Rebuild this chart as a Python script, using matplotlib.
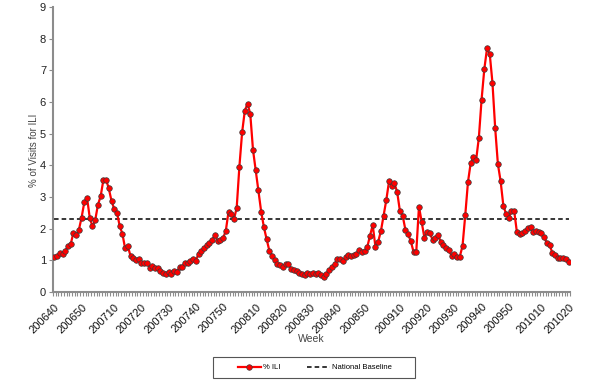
"""
Weekly % of visits for ILI, 2006 week 40 to 2010 week 20,
with the national baseline.
"""

import matplotlib
matplotlib.use("Agg")
import matplotlib.pyplot as plt
from matplotlib.patches import Rectangle
import numpy as np

plt.rcParams["font.family"] = ["Liberation Sans", "DejaVu Sans"]

# (year, first week, last week) covered by the chart
week_ranges = [(2006, 40, 52), (2007, 1, 52), (2008, 1, 53), (2009, 1, 52), (2010, 1, 20)]

# % ILI by season (week 40 .. week 39)
ili_0607 = [1.12, 1.14, 1.22, 1.19, 1.31, 1.44, 1.51, 1.87, 1.79, 1.96,
            2.35, 2.83, 2.98, 2.35, 2.07, 2.26, 2.75, 3.02, 3.53, 3.55,
            3.27, 2.88, 2.62, 2.51, 2.09, 1.84, 1.38, 1.44, 1.14, 1.06,
            1.00, 1.03, 0.93, 0.92, 0.93, 0.77, 0.81, 0.77, 0.76, 0.65,
            0.60, 0.58, 0.64, 0.56, 0.66, 0.63, 0.79, 0.80, 0.93, 0.93,
            0.99, 1.05]
ili_0708 = [0.99, 1.21, 1.28, 1.39, 1.47, 1.56, 1.65, 1.81, 1.61, 1.63,
            1.70, 1.93, 2.53, 2.45, 2.30, 2.65, 3.96, 5.04, 5.73, 5.95,
            5.62, 4.49, 3.84, 3.21, 2.54, 2.05, 1.67, 1.31, 1.15, 1.02,
            0.88, 0.84, 0.80, 0.89, 0.88, 0.73, 0.70, 0.66, 0.61, 0.56,
            0.54, 0.59, 0.58, 0.59, 0.57, 0.60, 0.54, 0.47, 0.58, 0.70,
            0.80, 0.89]
ili_0809 = [1.03, 1.05, 0.98, 1.09, 1.18, 1.14, 1.17, 1.20, 1.33, 1.27,
            1.28, 1.42, 1.78, 2.11, 1.43, 1.59, 1.92, 2.41, 2.91, 3.50,
            3.34, 3.43, 3.15, 2.55, 2.41, 1.97, 1.83, 1.60, 1.27, 1.27,
            2.70, 2.20, 1.71, 1.90, 1.86, 1.65, 1.71, 1.80, 1.59, 1.49,
            1.39, 1.32, 1.14, 1.20, 1.12, 1.12, 1.45, 2.42, 3.47, 4.07,
            4.25, 4.17, 4.87]
ili_0910 = [6.07, 7.03, 7.69, 7.52, 6.61, 5.18, 4.04, 3.50, 2.73, 2.47,
            2.33, 2.57, 2.55, 1.88, 1.83, 1.85, 1.93, 2.03, 2.06, 1.88,
            1.94, 1.90, 1.86, 1.73, 1.54, 1.50, 1.23, 1.18, 1.06, 1.06,
            1.06, 1.04, 0.95]

national_baseline = 2.3

weeks = []
for year, first, last in week_ranges:
    for wk in range(first, last + 1):
        weeks.append(f"{year}{wk:02d}")

ili = ili_0607 + ili_0708 + ili_0809 + ili_0910
assert len(ili) == len(weeks)

n = len(weeks)
x = np.arange(n)
axis_gray = "#8c8c8c"

fig = plt.figure(figsize=(6, 3.84), dpi=100)
ax = fig.add_axes([53 / 600, 1 - 292 / 384, 517 / 600, 285 / 384])

ax.plot(x, ili, color="red", lw=1.6, marker="o", ms=4.0,
        mfc="red", mec="#3a3a3a", mew=0.5, label="% ILI", zorder=3)
ax.plot(x, [national_baseline] * n, color="black", lw=1.1,
        dashes=(3, 2), label="National Baseline", zorder=2)

ax.set_xlim(-0.5, n - 0.5)
ax.set_ylim(0, 9)

for side in ["top", "right"]:
    ax.spines[side].set_visible(False)
for side in ["left", "bottom"]:
    ax.spines[side].set_color(axis_gray)
    ax.spines[side].set_linewidth(1.5)

ax.set_yticks(range(10))
ax.tick_params(axis="y", length=3, color=axis_gray, labelsize=8, pad=2,
               labelcolor="#222222")

# labels only on weeks ending in 0
major = [i for i, w in enumerate(weeks) if w.endswith("0")]
ax.set_xticks(major)
ax.set_xticklabels([weeks[i] for i in major], rotation=45, ha="right",
                   va="top", rotation_mode="anchor")
ax.set_xticks(np.arange(n + 1) - 0.5, minor=True)
ax.tick_params(axis="x", which="major", length=0, labelsize=8, pad=7,
               labelcolor="#111111")
ax.tick_params(axis="x", which="minor", length=3, color=axis_gray, width=0.8)

fig.text(34 / 600, 1 - 150 / 384, "% of Visits for ILI", fontsize=7,
         color="#444444", rotation=90, ha="center", va="center")
fig.text(311 / 600, 1 - 339 / 384, "Week", fontsize=7.5, color="#444444",
         ha="center", va="center")

# legend box drawn separately so it can be wider than its entries
fig.patches.append(Rectangle((213 / 600, 1 - 378 / 384), 202 / 600, 21 / 384,
                             transform=fig.transFigure, fill=False,
                             edgecolor="#555555", lw=0.8))
fig.legend(loc="center", bbox_to_anchor=(315 / 600, 1 - 367.5 / 384),
           ncol=2, fontsize=5.5, frameon=False, handlelength=3.0,
           columnspacing=3.5, handletextpad=0.3)

fig.savefig("out.png", dpi=100)
